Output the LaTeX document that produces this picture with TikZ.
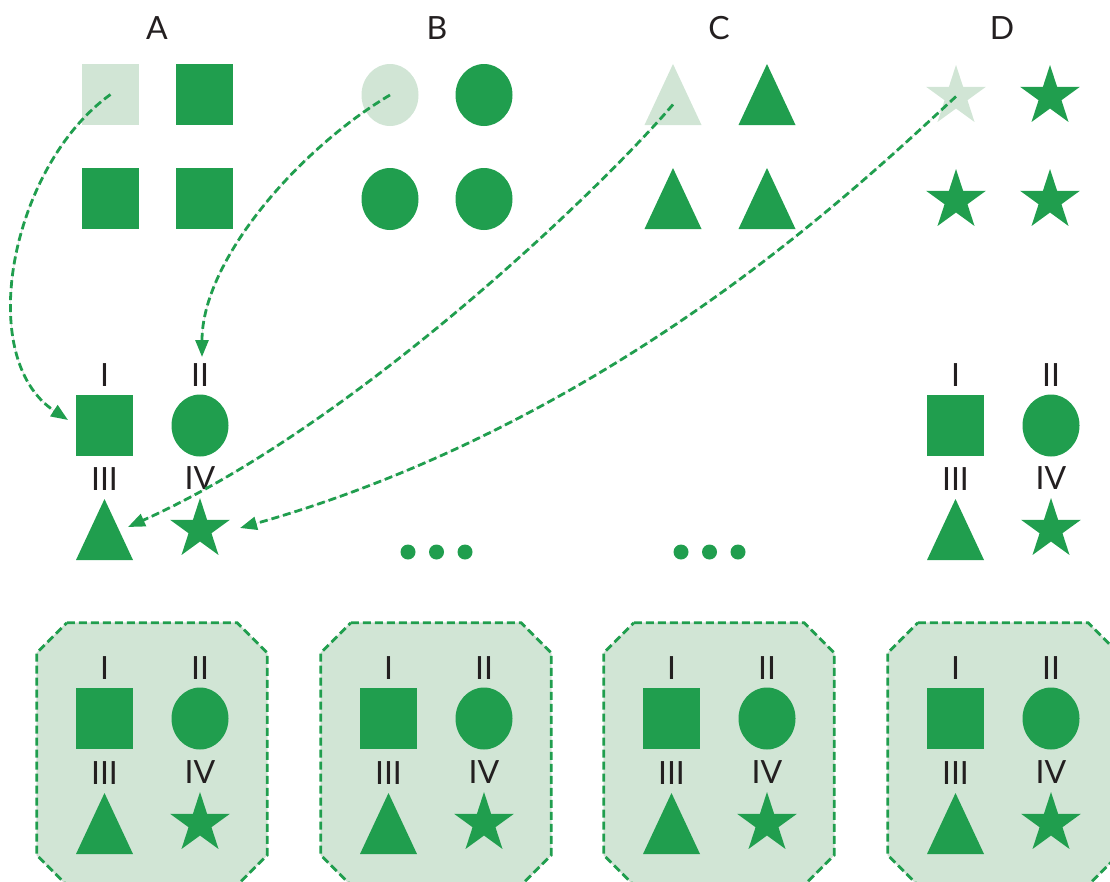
\documentclass[tikz,border=0pt]{standalone}
\usepackage{fontspec}
\setmainfont{Lato}
\usetikzlibrary{positioning,shapes.geometric,arrows.meta}

\definecolor{leaf}{RGB}{32,158,78}
\definecolor{pale}{RGB}{209,229,213}
\definecolor{track}{RGB}{205,205,205}
\definecolor{ink}{RGB}{35,31,32}

\tikzset{
	sq/.style={rectangle, fill=#1, minimum width=57pt, minimum height=61pt, inner sep=0pt},
	sq/.default=leaf,
	ov/.style={ellipse, fill=#1, minimum width=57pt, minimum height=62pt, inner sep=0pt},
	ov/.default=leaf,
	tri/.style={rectangle, minimum width=57pt, minimum height=61pt, inner sep=0pt,
		path picture={\fill[#1] (path picture bounding box.south west) -- (path picture bounding box.south east) -- (path picture bounding box.north) -- cycle;}},
	tri/.default=leaf,
	st/.style={star, star points=5, star point ratio=2.618, fill=#1, minimum size=63pt, inner sep=0pt},
	st/.default=leaf,
	lab/.style={text=ink, inner sep=0pt, font=\fontsize{32}{38}\selectfont},
	dot/.style={circle, fill=leaf, minimum size=15pt, inner sep=0pt},
	edging/.style={draw=leaf, line width=2.8pt, dash pattern=on 8pt off 4pt,
		preaction={fill=pale, draw=track, solid}},
	panel/.style={rectangle, minimum width=230pt, minimum height=262pt, inner sep=0pt,
		append after command={\pgfextra{\path[edging]
			([xshift=30pt]\tikzlastnode.north west) -- ([xshift=-30pt]\tikzlastnode.north east)
			-- ([yshift=-30pt]\tikzlastnode.north east) -- ([yshift=30pt]\tikzlastnode.south east)
			-- ([xshift=-30pt]\tikzlastnode.south east) -- ([xshift=30pt]\tikzlastnode.south west)
			-- ([yshift=30pt]\tikzlastnode.south west) -- ([yshift=-30pt]\tikzlastnode.north west) -- cycle;}}},
	link/.style={leaf, line width=2.8pt, dash pattern=on 8pt off 4pt, -{Triangle[length=17pt,width=13pt]},
		preaction={draw=track, solid, -, shorten >=15pt}},
}

\begin{document}
\begin{tikzpicture}[x=1pt, y=-1pt, node distance=104pt and 94pt, on grid,
	every label/.style={lab}, label distance=8pt]
	\useasboundingbox (0,0) rectangle (1110,881);
	\clip (0,0) rectangle (1110,881);
	
	% bottom panels
	\node[panel] (box1) at (152,754) {};
	\node[panel] (box2) at (436,754) {};
	\node[panel] (box3) at (719,754) {};
	\node[panel] (box4) at (1003,754) {};
	
	% top groups
	\node[lab] (hA) at (157,28) {A};
	\node[lab] (hB) at (437,28) {B};
	\node[lab] (hC) at (719,28) {C};
	\node[lab] (hD) at (1002,28) {D};
	
	\node[sq=pale] (a1) at (110.5,94.5) {};
	\node[sq] (a2) [right=of a1] {};
	\node[sq] (a3) [below=of a1] {};
	\node[sq] (a4) [right=of a3] {};
	
	\node[ov=pale] (b1) at (390,95) {};
	\node[ov] (b2) [right=of b1] {};
	\node[ov] (b3) [below=of b1] {};
	\node[ov] (b4) [right=of b3] {};
	
	\node[tri=pale] (c1) at (673,94.5) {};
	\node[tri] (c2) [right=of c1] {};
	\node[tri] (c3) [below=of c1] {};
	\node[tri] (c4) [right=of c3] {};
	
	\node[st=pale] (d1) at (956,96.5) {};
	\node[st] (d2) [right=of d1] {};
	\node[st] (d3) [below=of d1] {};
	\node[st] (d4) [right=of d3] {};
	
	% middle row
	\node[sq, label=above:I] (mSq) at (104.5,425.5) {};
	\node[ov, label=above:II] (mOv) [right=95.5pt of mSq] {};
	\node[tri, label=above:III] (mTri) [below=of mSq] {};
	\node[st, label=above:IV] (mSt) [right=95.5pt of mTri] {};
	
	\node[sq, label=above:I] (nSq) at (955.5,425.5) {};
	\node[ov, label=above:II] (nOv) [right=95.5pt of nSq] {};
	\node[tri, label=above:III] (nTri) [below=of nSq] {};
	\node[st, label=above:IV] (nSt) [right=95.5pt of nTri] {};
	
	\node[dot] (dot1) at (408,552) {};
	\node[dot] (dot2) [right=28.5pt of dot1] {};
	\node[dot] (dot3) [right=28.5pt of dot2] {};
	\node[dot] (dot4) at (681,552) {};
	\node[dot] (dot5) [right=28.5pt of dot4] {};
	\node[dot] (dot6) [right=28.5pt of dot5] {};
	
	% panel contents
	\node[sq, label=above:I] (box1Sq) [above left=35.5pt and 47.5pt of box1] {};
	\node[ov, label=above:II] (box1Ov) [right=95.5pt of box1Sq] {};
	\node[tri, label=above:III] (box1Tri) [below=105pt of box1Sq] {};
	\node[st, label=above:IV] (box1St) [right=95.5pt of box1Tri] {};
	
	\node[sq, label=above:I] (box2Sq) [above left=35.5pt and 47.5pt of box2] {};
	\node[ov, label=above:II] (box2Ov) [right=95.5pt of box2Sq] {};
	\node[tri, label=above:III] (box2Tri) [below=105pt of box2Sq] {};
	\node[st, label=above:IV] (box2St) [right=95.5pt of box2Tri] {};
	
	\node[sq, label=above:I] (box3Sq) [above left=35.5pt and 47.5pt of box3] {};
	\node[ov, label=above:II] (box3Ov) [right=95.5pt of box3Sq] {};
	\node[tri, label=above:III] (box3Tri) [below=105pt of box3Sq] {};
	\node[st, label=above:IV] (box3St) [right=95.5pt of box3Tri] {};
	
	\node[sq, label=above:I] (box4Sq) [above left=35.5pt and 47.5pt of box4] {};
	\node[ov, label=above:II] (box4Ov) [right=95.5pt of box4Sq] {};
	\node[tri, label=above:III] (box4Tri) [below=105pt of box4Sq] {};
	\node[st, label=above:IV] (box4St) [right=95.5pt of box4Tri] {};
	
	% picks
	\coordinate (hitI) at (68,420);
	\coordinate (hitII) at (202,357);
	\coordinate (hitIII) at (128,527);
	\coordinate (hitIV) at (240,528);
	
	\draw[link] (a1.center) .. controls (12,165) and (-27,357) .. (hitI);
	\draw[link] (b1.center) .. controls (299,149) and (202,260) .. (hitII);
	\draw[link] ([yshift=-10pt]c1.center) .. controls (600,190) and (354,426) .. (hitIII);
	\draw[link] (d1.center) .. controls (870,175) and (620,420) .. (hitIV);
\end{tikzpicture}
\end{document}
